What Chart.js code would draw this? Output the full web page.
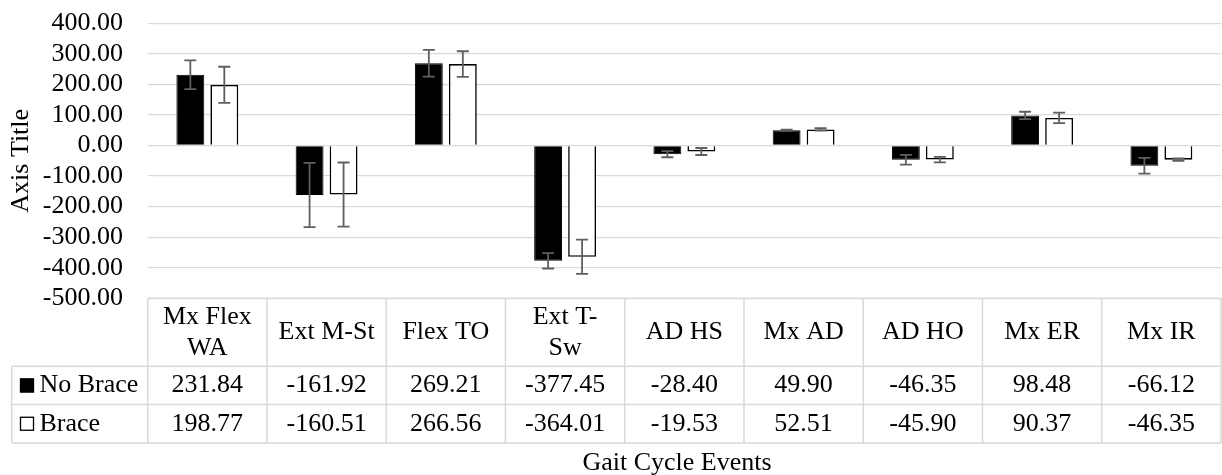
<!DOCTYPE html>
<html>
<head>
<meta charset="utf-8">
<title>Gait Cycle Events</title>
<script src="https://cdn.jsdelivr.net/npm/chart.js@4.4.1/dist/chart.umd.min.js"></script>
<style>
    html, body { margin: 0; padding: 0; background: #fff; }
    #wrap { position: relative; width: 1222px; height: 475px; }
</style>
</head>
<body>
<div id="wrap"><canvas id="chart"></canvas></div>
<script>
// data
const categories = [["Mx Flex", "WA"], "Ext M-St", "Flex TO", ["Ext T-", "Sw"], "AD HS", "Mx AD", "AD HO", "Mx ER", "Mx IR"];
const seriesNames = ["No Brace", "Brace"];
const noBrace = [231.84, -161.92, 269.21, -377.45, -28.40, 49.90, -46.35, 98.48, -66.12];
const brace = [198.77, -160.51, 266.56, -364.01, -19.53, 52.51, -45.90, 90.37, -46.35];
// error bar sizes
const noBraceSd = [47, 105, 44, 25, 10, 2, 16, 12, 26];
const braceSd = [59, 105, 42, 56, 11.5, 4, 9, 17, 4];
const yMin = -500;
const yMax = 400;
const yStep = 100;

const FONT = "'Liberation Serif', 'Times New Roman', serif";
const GRID = "#d9d9d9";

// ==========================
// ERROR BARS
// ==========================

const errorBars = {
    id: "errorBars",
    afterDatasetsDraw(chart) {
        const { ctx } = chart;
        const y = chart.scales.y;
        const sds = [noBraceSd, braceSd];
        ctx.save();
        ctx.strokeStyle = "#5f5f5f";
        ctx.lineWidth = 1.8;
        chart.data.datasets.forEach((ds, i) => {
            const meta = chart.getDatasetMeta(i);
            meta.data.forEach((bar, j) => {
                const v = ds.data[j];
                const top = y.getPixelForValue(v + sds[i][j]);
                const bot = y.getPixelForValue(v - sds[i][j]);
                ctx.beginPath();
                ctx.moveTo(bar.x, top);
                ctx.lineTo(bar.x, bot);
                ctx.moveTo(bar.x - 6, top);
                ctx.lineTo(bar.x + 6, top);
                ctx.moveTo(bar.x - 6, bot);
                ctx.lineTo(bar.x + 6, bot);
                ctx.stroke();
            });
        });
        ctx.restore();
    }
};

// ==========================
// DATA TABLE UNDER THE PLOT
// ==========================

const dataTable = {
    id: "dataTable",
    afterDraw(chart) {
        const { ctx, chartArea } = chart;
        const xs = chart.scales.x;
        const left = chartArea.left;
        const right = chartArea.right;
        const top = chartArea.bottom;
        const headerBottom = top + 68;
        const rowH = 38.3;
        const tableBottom = headerBottom + rowH * 2;
        const legendLeft = 11.7;
        const colW = (right - left) / categories.length;

        ctx.save();
        ctx.strokeStyle = GRID;
        ctx.lineWidth = 1.5;
        ctx.beginPath();
        ctx.moveTo(left, top);
        ctx.lineTo(right, top);
        [headerBottom, headerBottom + rowH, tableBottom].forEach(yy => {
            ctx.moveTo(legendLeft, yy);
            ctx.lineTo(right, yy);
        });
        for (let i = 0; i <= categories.length; i++) {
            const xx = left + i * colW;
            ctx.moveTo(xx, top);
            ctx.lineTo(xx, tableBottom);
        }
        ctx.moveTo(legendLeft, headerBottom);
        ctx.lineTo(legendLeft, tableBottom);
        ctx.stroke();

        ctx.fillStyle = "#000";
        ctx.font = "26px " + FONT;
        ctx.textAlign = "center";
        ctx.textBaseline = "middle";

        // header row
        const headerMid = (top + headerBottom) / 2;
        chart.data.labels.forEach((lab, i) => {
            const cx = xs.getPixelForValue(i);
            const lines = Array.isArray(lab) ? lab : [lab];
            const lh = 31;
            lines.forEach((ln, k) => {
                ctx.fillText(ln, cx, headerMid + (k - (lines.length - 1) / 2) * lh);
            });
        });

        // value rows
        chart.data.datasets.forEach((ds, r) => {
            const rowMid = headerBottom + rowH * r + rowH / 2;
            ds.data.forEach((v, i) => {
                ctx.fillText(v.toFixed(2), xs.getPixelForValue(i), rowMid);
            });

            // legend key + name
            ctx.fillStyle = ds.backgroundColor;
            ctx.fillRect(20, rowMid - 7, 14, 14);
            ctx.strokeStyle = "#000";
            ctx.lineWidth = 1.3;
            ctx.strokeRect(20.5, rowMid - 6.5, 13, 13);
            ctx.fillStyle = "#000";
            ctx.textAlign = "left";
            ctx.fillText(ds.label, 39.5, rowMid);
            ctx.textAlign = "center";
        });

        // x axis title
        ctx.fillText("Gait Cycle Events", 677, 463);
        ctx.restore();
    }
};

// ==========================
// CHART
// ==========================

const ctx = document.getElementById("chart").getContext("2d");

new Chart(ctx, {
    type: "bar",
    data: {
        labels: categories,
        datasets: [
            {
                label: seriesNames[0],
                data: noBrace,
                backgroundColor: "#000000",
                borderColor: "#000000",
                borderWidth: 1
            },
            {
                label: seriesNames[1],
                data: brace,
                backgroundColor: "#ffffff",
                borderColor: "#000000",
                borderWidth: 1.6
            }
        ]
    },
    options: {
        responsive: true,
        maintainAspectRatio: false,
        animation: false,
        categoryPercentage: 0.57,
        barPercentage: 0.82,
        layout: {
            padding: { top: 23.3, right: 1, bottom: 176.7, left: 0 }
        },
        plugins: {
            legend: { display: false },
            tooltip: { enabled: false }
        },
        scales: {
            x: {
                display: false
            },
            y: {
                min: yMin,
                max: yMax,
                afterFit: scale => { scale.width = 147.7; },
                border: { display: false },
                // invisible tick marks give the gap between labels and plot
                // (ticks.padding would also push the plot area down)
                grid: {
                    color: GRID,
                    lineWidth: 1.3,
                    drawTicks: true,
                    tickLength: 24.7,
                    tickColor: "rgba(0,0,0,0)"
                },
                ticks: {
                    stepSize: yStep,
                    autoSkip: false,
                    padding: 0,
                    color: "#000",
                    font: { family: FONT, size: 26, lineHeight: 1.2 },
                    callback: v => v.toFixed(2)
                },
                title: {
                    display: true,
                    text: "Axis Title",
                    color: "#000",
                    font: { family: FONT, size: 26, lineHeight: 1.2 },
                    padding: { top: 6, bottom: 4 }
                }
            }
        }
    },
    plugins: [errorBars, dataTable]
});
</script>
</body>
</html>
